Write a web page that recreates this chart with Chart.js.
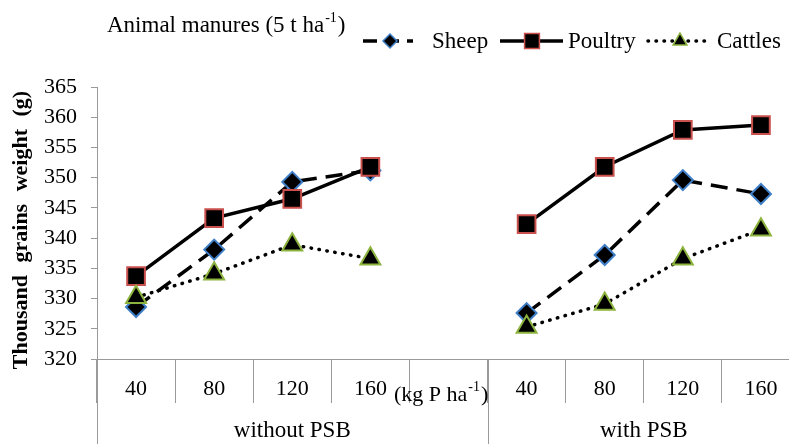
<!DOCTYPE html>
<html>
<head>
<meta charset="utf-8">
<script src="https://cdn.jsdelivr.net/npm/chart.js@4"></script>
<style>
html,body{margin:0;padding:0;background:#fff;overflow:hidden;}
#c{display:block;}
</style>
</head>
<body>
<canvas id="c" width="800" height="444" style="width:800px;height:444px;"></canvas>
<script>
// ---- data ----
const categories = ['40', '80', '120', '160', '', '40', '80', '120', '160'];
const groups = ['without PSB', 'with PSB'];
const sheep   = [328.6, 338.1, 349.3, 351.2, null, 327.6, 337.2, 349.6, 347.3];
const poultry = [333.7, 343.3, 346.5, 351.8, null, 342.3, 351.8, 357.9, 358.7];
const cattles = [330.2, 334.1, 338.9, 336.6, null, 325.3, 329.1, 336.6, 341.4];
const yMin = 320, yMax = 365, yStep = 5;
const seriesNames = ['Sheep', 'Poultry', 'Cattles'];
const titleMain = 'Animal manures (5 t ha';
const titleSup = '-1';
const titleEnd = ')';
const xUnitMain = '(kg P ha';
const xUnitSup = '-1';
const xUnitEnd = ')';
const yTitle = 'Thousand grains weight (g)';

const FONT = '"Liberation Serif", "Times New Roman", serif';
const GRID = '#9a9a9a';

function drawMarker(ctx, style, x, y, r, fill, stroke, lw) {
  ctx.save();
  ctx.beginPath();
  if (style === 'rectRot') {
    ctx.moveTo(x, y - r); ctx.lineTo(x + r, y); ctx.lineTo(x, y + r); ctx.lineTo(x - r, y); ctx.closePath();
  } else if (style === 'rect') {
    const s = r * Math.SQRT1_2;
    ctx.rect(x - s, y - s, 2 * s, 2 * s);
  } else {
    ctx.moveTo(x, y - r);
    ctx.lineTo(x + r * Math.sin(2 * Math.PI / 3), y - r * Math.cos(2 * Math.PI / 3));
    ctx.lineTo(x + r * Math.sin(4 * Math.PI / 3), y - r * Math.cos(4 * Math.PI / 3));
    ctx.closePath();
  }
  ctx.fillStyle = fill; ctx.fill();
  ctx.lineWidth = lw; ctx.strokeStyle = stroke; ctx.stroke();
  ctx.restore();
}

function supText(ctx, x, y, main, sup, end, size) {
  ctx.font = size + 'px ' + FONT;
  ctx.fillText(main, x, y);
  let w = ctx.measureText(main).width;
  ctx.font = Math.round(size * 0.62) + 'px ' + FONT;
  ctx.fillText(sup, x + w + 1, y - size * 0.33);
  w += ctx.measureText(sup).width + 2;
  ctx.font = size + 'px ' + FONT;
  ctx.fillText(end, x + w, y);
}

const extras = {
  id: 'extras',
  afterDraw(chart) {
    const ctx = chart.ctx;
    const xs = chart.scales.x;
    const area = chart.chartArea;
    ctx.save();
    // long group dividers
    const p0 = xs.getPixelForValue(0), p1 = xs.getPixelForValue(1);
    const half = (p1 - p0) / 2;
    const bounds = [p0 - half, (xs.getPixelForValue(4) + xs.getPixelForValue(5)) / 2, xs.getPixelForValue(8) + half];
    ctx.strokeStyle = GRID; ctx.lineWidth = 1;
    bounds.forEach(b => {
      const bx = Math.round(b) + 0.5;
      ctx.beginPath(); ctx.moveTo(bx, area.bottom); ctx.lineTo(bx, 444); ctx.stroke();
    });
    // group labels
    ctx.fillStyle = '#000';
    ctx.textAlign = 'center'; ctx.textBaseline = 'middle';
    ctx.font = '23px ' + FONT;
    ctx.fillText(groups[0], (bounds[0] + bounds[1]) / 2, 431);
    ctx.fillText(groups[1], (bounds[1] + bounds[2]) / 2, 431);
    // x unit label
    ctx.textAlign = 'left';
    supText(ctx, 394, 395, xUnitMain, xUnitSup, xUnitEnd, 22);
    // title
    supText(ctx, 107, 26, titleMain, titleSup, titleEnd, 23);
    // y title
    ctx.save();
    ctx.translate(21, 230);
    ctx.rotate(-Math.PI / 2);
    ctx.textAlign = 'center';
    ctx.font = 'bold 22px ' + FONT;
    try { ctx.wordSpacing = '7px'; } catch (e) {}
    ctx.fillText(yTitle, 0, 0);
    ctx.restore();
    // legend
    const ly = 41;
    const items = [
      {x0: 363, x1: 413, mx: 390, r: 7, text: 432},
      {x0: 500, x1: 563, mx: 532, r: 10.5, text: 568},
      {x0: 648, x1: 707, mx: 680, r: 8, text: 717}
    ];
    chart.data.datasets.forEach((ds, i) => {
      const it = items[i];
      ctx.save();
      ctx.strokeStyle = ds.borderColor;
      ctx.lineWidth = ds.borderWidth;
      ctx.lineCap = ds.borderCapStyle || 'butt';
      ctx.setLineDash(i === 0 ? [14, 8] : (ds.borderDash || []));
      ctx.beginPath(); ctx.moveTo(it.x0, ly); ctx.lineTo(it.x1, ly); ctx.stroke();
      ctx.restore();
      drawMarker(ctx, ds.pointStyle, it.mx, ly, it.r, ds.pointBackgroundColor, ds.pointBorderColor, 1.5);
      ctx.fillStyle = '#000';
      ctx.textAlign = 'left'; ctx.textBaseline = 'middle';
      ctx.font = '23px ' + FONT;
      ctx.fillText(ds.label, it.text, ly + 1);
    });
    ctx.restore();
  }
};

new Chart(document.getElementById('c'), {
  type: 'line',
  data: {
    labels: categories,
    datasets: [
      {
        label: seriesNames[0], data: sheep, order: 3,
        borderColor: '#000', borderWidth: 3.5, borderDash: [17, 9],
        pointStyle: 'rectRot', pointRadius: 10, pointHoverRadius: 10,
        pointBackgroundColor: '#000', pointBorderColor: '#3f7fc8', pointBorderWidth: 2,
        spanGaps: false, tension: 0, clip: false
      },
      {
        label: seriesNames[1], data: poultry, order: 2,
        borderColor: '#000', borderWidth: 3.5,
        pointStyle: 'rect', pointRadius: 12.5, pointHoverRadius: 12.5,
        pointBackgroundColor: '#000', pointBorderColor: '#c9504d', pointBorderWidth: 2,
        spanGaps: false, tension: 0, clip: false
      },
      {
        label: seriesNames[2], data: cattles, order: 1,
        borderColor: '#000', borderWidth: 3.5, borderDash: [0.5, 7.5], borderCapStyle: 'round',
        pointStyle: 'triangle', pointRadius: 11.5, pointHoverRadius: 11.5,
        pointBackgroundColor: '#000', pointBorderColor: '#8db33f', pointBorderWidth: 2,
        spanGaps: false, tension: 0, clip: false
      }
    ]
  },
  options: {
    responsive: false,
    maintainAspectRatio: false,
    devicePixelRatio: 1,
    animation: false,
    layout: { autoPadding: false, padding: { top: 87, left: 0, right: 0, bottom: 0 } },
    plugins: { legend: { display: false }, title: { display: false }, tooltip: { enabled: false } },
    scales: {
      x: {
        type: 'category',
        offset: true,
        grid: { offset: true, drawOnChartArea: false, drawTicks: true, tickLength: 44, color: GRID, lineWidth: 1 },
        border: { color: GRID, width: 1 },
        ticks: { padding: -27, color: '#000', font: { family: FONT, size: 22 }, maxRotation: 0, autoSkip: false },
        afterFit(s) { s.height = 85; }
      },
      y: {
        min: yMin, max: yMax,
        grid: { drawOnChartArea: false, tickLength: 6, color: GRID },
        border: { color: GRID, width: 1 },
        ticks: { stepSize: yStep, padding: 14, color: '#000', font: { family: FONT, size: 22 } },
        afterFit(s) { s.width = 97; }
      }
    }
  },
  plugins: [extras]
});
</script>
</body>
</html>
